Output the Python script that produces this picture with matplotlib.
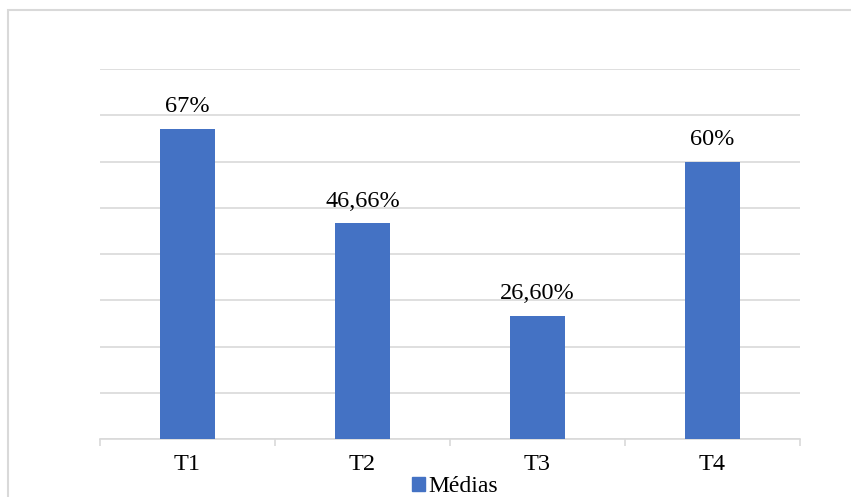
import matplotlib.pyplot as plt
from matplotlib.patches import Rectangle, Patch

categorias = ["T1", "T2", "T3", "T4"]
medias = [67, 46.66, 26.6, 60]
rotulos = ["67%", "46,66%", "26,60%", "60%"]

plt.rcParams['font.family'] = ['Liberation Serif', 'DejaVu Serif']

W, H = 851, 497
fig = plt.figure(figsize=(W / 100, H / 100), dpi=100)

# moldura externa (cortada à direita e embaixo)
fig.patches.append(Rectangle((8 / W, -0.1), 1.2, 1 - 10 / H + 0.1, transform=fig.transFigure,
                             fill=False, edgecolor='#d9d9d9', linewidth=1.5))

ax = fig.add_axes([100 / W, (H - 439) / H, 700 / W, (439 - 69) / H])
x = range(len(categorias))
barras = ax.bar(x, medias, width=0.31, color='#4472c4', zorder=3)

ax.set_xlim(-0.5, 3.5)
ax.set_ylim(0, 80)
ax.set_yticks(range(0, 81, 10))
ax.set_yticklabels([])
ax.tick_params(axis='y', length=0)
ax.grid(axis='y', color='#d9d9d9', linewidth=1.2, zorder=0)

ax.set_xticks([-0.5, 0.5, 1.5, 2.5, 3.5])
ax.set_xticklabels([])
ax.set_xticks(list(x), minor=True)
ax.set_xticklabels(categorias, minor=True, fontsize=17.5)
ax.tick_params(axis='x', which='major', length=5, color='#d9d9d9', width=1.2)
ax.tick_params(axis='x', which='minor', length=0, pad=11)

for s in ['top', 'right', 'left']:
    ax.spines[s].set_visible(False)
ax.spines['bottom'].set_color('#d9d9d9')
ax.spines['bottom'].set_linewidth(1.2)

for b, txt in zip(barras, rotulos):
    ax.annotate(txt, xy=(b.get_x() + b.get_width() / 2, b.get_height()),
                xytext=(0, 12), textcoords='offset points',
                ha='center', va='baseline', fontsize=17.5)

fig.legend(handles=[Patch(color='#4472c4', label='Médias')], loc='center',
           bbox_to_anchor=(455 / W, 1 - 487 / H), frameon=False, fontsize=17,
           handlelength=0.55, handleheight=0.55, handletextpad=0.15)

fig.savefig('out.png', dpi=100)
